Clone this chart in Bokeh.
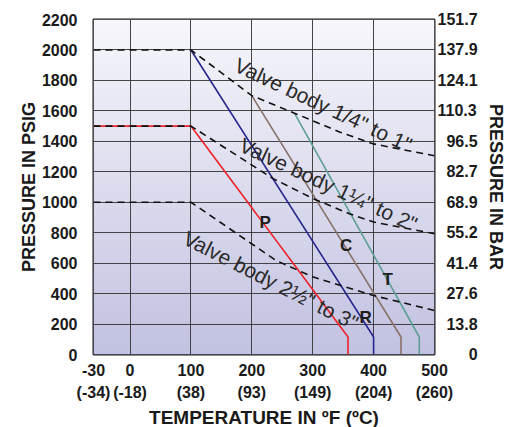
import numpy as np
from bokeh.plotting import figure
from bokeh.models import Range1d, LinearAxis, FixedTicker
from bokeh.core.properties import value
from bokeh.embed import file_html
from bokeh.resources import INLINE

# ---- data ----
temp_ticks_f = [-30, 0, 100, 200, 300, 400, 500]
temp_ticks_c = ["(-34)", "(-18)", "(38)", "(93)", "(149)", "(204)", "(260)"]
psig_ticks = [0, 200, 400, 600, 800, 1000, 1200, 1400, 1600, 1800, 2000, 2200]
bar_labels = ["0", "13.8", "27.6", "41.4", "55.2", "68.9", "82.7", "96.5",
              "110.3", "124.1", "137.9", "151.7"]

# seat ratings (solid lines)
p_temp = [-30, 100, 358, 358]
p_psig = [1500, 1500, 115, 0]
r_temp = [100, 400, 400]
r_psig = [2000, 115, 0]
c_temp = [200, 445, 445]
c_psig = [1700, 115, 0]
t_temp = [270, 475, 475]
t_psig = [1585, 115, 0]

# valve body ratings (dashed lines)
body1_temp = [-30, 100, 200, 270, 345, 400, 500]
body1_psig = [2000, 2000, 1700, 1585, 1460, 1383, 1305]
body2_temp = [-30, 100, 235, 300, 360, 400, 500]
body2_psig = [1500, 1500, 1155, 1025, 925, 870, 793]
body3_temp = [-30, 100, 240, 300, 400, 500]
body3_psig = [1000, 1000, 617, 510, 387, 289]

seat_names = ["P", "C", "T", "R"]
seat_label_temp = [222, 355, 423, 387]
seat_label_psig = [869, 716, 490, 245]

body_names = ["Valve body 1/4\" to 1\"", "Valve body 1\u00bc\" to 2\"", "Valve body 2\u00bd\" to 3\""]
body_label_temp = [174, 182, 90]
body_label_psig = [1910, 1385, 775]
body_label_angle_deg = [-25.2, -25.0, -27.0]


def xpos(ts):
    # the axis is stretched below 0 F: -30 F sits at the left edge
    return [t if t >= 0 else 2 * t for t in ts]


FONT = "Liberation Sans"

p = figure(frame_width=341, frame_height=335,
           x_range=Range1d(-60, 500), y_range=Range1d(0, 2200),
           output_backend="svg", toolbar_location=None,
           min_border_left=93, min_border_right=84,
           min_border_top=19, min_border_bottom=71,
           background_fill_color="#ffffff", border_fill_color="#ffffff")

# gradient background
n = 335
img = np.empty((n, 1), dtype=np.uint32)
view = img.view(dtype=np.uint8).reshape((n, 1, 4))
top = np.array([247, 247, 252])
bot = np.array([194, 194, 226])
for i in range(n):
    f = i / (n - 1)
    c = bot + (top - bot) * f
    view[i, 0, :] = [int(c[0]), int(c[1]), int(c[2]), 255]
bg = p.image_rgba(image=[img], x=-60, y=0, dw=560, dh=2200)
bg.level = "image"

p.outline_line_color = "#1a1a1a"
p.outline_line_width = 2

# grids
p.xgrid.ticker = FixedTicker(ticks=[0, 100, 200, 300, 400])
p.ygrid.ticker = FixedTicker(ticks=psig_ticks[1:-1])
for g in (p.xgrid, p.ygrid):
    g.grid_line_color = "#333333"
    g.grid_line_width = 1
    g.grid_line_alpha = 0.9

# x axis
xa = p.xaxis[0]
xa.ticker = FixedTicker(ticks=xpos(temp_ticks_f))
xa.major_label_overrides = {float(x): f"{t}\n{c}" for x, t, c in
                            zip(xpos(temp_ticks_f), temp_ticks_f, temp_ticks_c)}
xa.axis_label = "TEMPERATURE IN \u00baF (\u00baC)"

# left y axis
ya = p.yaxis[0]
ya.ticker = FixedTicker(ticks=psig_ticks)
ya.axis_label = "PRESSURE IN PSIG"

# right y axis (bar)
pad = {4: "\u2007", 1: "\u2007\u2007\u2007\u2008"}
ra = LinearAxis(ticker=FixedTicker(ticks=psig_ticks),
                major_label_overrides={float(v): pad.get(len(b), "") + b
                                       for v, b in zip(psig_ticks, bar_labels)},
                axis_label="PRESSURE IN BAR")
p.add_layout(ra, "right")

for ax in (xa, ya, ra):
    ax.axis_line_color = None
    ax.major_tick_line_color = None
    ax.minor_tick_line_color = None
    ax.major_tick_out = 0
    ax.major_tick_in = 0
    ax.minor_tick_out = 0
    ax.minor_tick_in = 0
    ax.major_label_text_font = FONT
    ax.major_label_text_font_style = "bold"
    ax.major_label_text_font_size = "16px"
    ax.major_label_text_color = "#1a1a1a"
    ax.axis_label_text_font = FONT
    ax.axis_label_text_font_style = "bold"
    ax.axis_label_text_font_size = "18px"
    ax.axis_label_text_color = "#1a1a1a"

xa.major_label_standoff = 7
xa.major_label_text_line_height = 1.3
xa.axis_label_standoff = 3
xa.axis_label_text_font_size = "19px"
ya.major_label_standoff = 16
ya.axis_label_standoff = 0
ra.major_label_standoff = 3
ra.axis_label_standoff = 5

# solid seat lines
p.line(xpos(p_temp), p_psig, line_color="#ee2229", line_width=1.6)
p.line(xpos(r_temp), r_psig, line_color="#26268c", line_width=1.6)
p.line(xpos(c_temp), c_psig, line_color="#8a7268", line_width=1.6)
p.line(xpos(t_temp), t_psig, line_color="#5e9e94", line_width=1.6)

# dashed valve body lines
for tt, pp in ((body1_temp, body1_psig), (body2_temp, body2_psig), (body3_temp, body3_psig)):
    p.line(xpos(tt), pp, line_color="#111111", line_width=1.6, line_dash="7 5")

# seat letters
p.text(x=xpos(seat_label_temp), y=seat_label_psig, text=seat_names,
       text_font=value(FONT), text_font_style="bold", text_font_size="17px",
       text_color="#1e1e1e", text_align="center", text_baseline="middle")

# valve body labels
p.text(x=xpos(body_label_temp), y=body_label_psig, text=body_names,
       angle=[np.deg2rad(a) for a in body_label_angle_deg],
       text_font=value(FONT), text_font_size="21px",
       text_color="#2a2a2a", text_align="left", text_baseline="middle")

open("out.html", "w").write(file_html(p, INLINE))
